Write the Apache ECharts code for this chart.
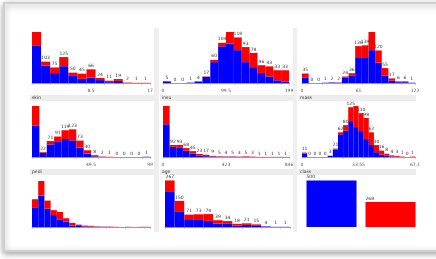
<!DOCTYPE html>
<html><head><meta charset="utf-8">
<script src="https://cdn.jsdelivr.net/npm/echarts@6/dist/echarts.min.js"></script>
<style>html,body{margin:0;padding:0;background:#fff;overflow:hidden}#c{width:436px;height:259px}</style>
</head><body><div id="c"></div>
<script>
// attribute names (Weka "Visualize All" of the Pima diabetes data)
const names = ['preg','plas','pres','skin','insu','mass','pedi','age','class'];

// per-bin counts: blue = tested_negative, red = tested_positive
const pregNeg = [179, 84, 48, 81, 34, 20, 26, 14, 4, 10, 0, 0, 0];
const pregPos = [67, 19, 27, 44, 16, 25, 40, 10, 7, 9, 2, 1, 1];
const plasNeg = [3, 0, 0, 1, 4, 16, 54, 95, 102, 85, 54, 41, 26, 17, 7, 4];
const plasPos = [2, 0, 0, 0, 0, 1, 6, 9, 30, 33, 39, 37, 20, 26, 26, 29];
const presNeg = [19, 0, 0, 1, 2, 1, 19, 28, 95, 95, 121, 75, 28, 9, 3, 3, 1];
const presPos = [16, 0, 0, 0, 0, 1, 5, 8, 41, 44, 67, 45, 27, 8, 3, 3, 0];
const skinNeg = [139, 19, 56, 70, 80, 74, 42, 15, 3, 1, 0, 0, 0, 0, 0, 1];
const skinPos = [88, 3, 15, 21, 39, 49, 31, 15, 5, 1, 1, 0, 0, 0, 0, 0];
const insuNeg = [251, 78, 70, 48, 25, 10, 6, 4, 2, 2, 2, 1, 1, 1, 0, 0, 0, 1, 0];
const insuPos = [140, 14, 23, 20, 20, 13, 11, 5, 3, 2, 3, 2, 4, 2, 1, 1, 1, 0, 1];
const massNeg = [9, 0, 0, 0, 0, 3, 19, 57, 66, 90, 75, 65, 45, 30, 12, 6, 3, 1, 1, 0, 0, 0];
const massPos = [2, 0, 0, 0, 0, 0, 2, 5, 14, 35, 53, 45, 53, 32, 18, 10, 5, 3, 2, 1, 0, 1];
const pediNeg = [96, 158, 93, 60, 36, 28, 7, 5, 3, 2, 1, 1, 1, 0, 0, 0, 0, 0, 0];
const pediPos = [44, 74, 40, 25, 40, 16, 14, 7, 4, 4, 2, 1, 1, 1, 0, 1, 0, 1, 1];
const ageNeg = [205, 90, 40, 40, 35, 20, 18, 8, 12, 10, 3, 1, 1];
const agePos = [62, 60, 31, 33, 39, 19, 16, 10, 9, 5, 1, 0, 0];
const classNeg = [500, 0];
const classPos = [0, 268];

// axis tick labels (min, mid, max)
const pregTicks = [0, 8.5, 17];
const plasTicks = [0, 99.5, 199];
const presTicks = [0, 61, 122];
const skinTicks = [0, 49.5, 99];
const insuTicks = [0, 423, 846];
const massTicks = [0, 33.55, 67.1];
const pediTicks = [0.078, 1.249, 2.42];
const ageTicks = [21, 51, 81];
const classCats = ['tested_negative', 'tested_positive'];

const panels = [
  {neg: pregNeg, pos: pregPos, ticks: pregTicks, showMax: false, hideMin: true},
  {neg: plasNeg, pos: plasPos, ticks: plasTicks, showMax: false},
  {neg: presNeg, pos: presPos, ticks: presTicks, showMax: false},
  {neg: skinNeg, pos: skinPos, ticks: skinTicks, showMax: false, hideMin: true},
  {neg: insuNeg, pos: insuPos, ticks: insuTicks, showMax: false},
  {neg: massNeg, pos: massPos, ticks: massTicks, showMax: false},
  {neg: pediNeg, pos: pediPos, ticks: pediTicks, showMax: false, noAxis: true, noLabels: true},
  {neg: ageNeg, pos: agePos, ticks: ageTicks, showMax: true, noAxis: true},
  {neg: classNeg, pos: classPos, cats: classCats, showMax: true, noAxis: true, leftLabels: true}
];

const colLeft = [32, 163, 302];
const colWidth = [118, 126, 113];
const rowTop = [32, 106, 178];
const rowHeight = [51, 51, 49];
const rowFill = [1, 1, 0.95];

const BLUE = '#0000ff', RED = '#ff0000';
const grid = [], xAxis = [], yAxis = [], series = [];
const graphic = [];

// outer frame
graphic.push({type: 'rect', shape: {x: 4, y: 3, width: 450, height: 248},
  style: {fill: '#fff', stroke: '#cfcfcf', lineWidth: 2, shadowBlur: 6, shadowColor: 'rgba(0,0,0,0.35)', shadowOffsetY: 2}, z: -10});

panels.forEach((p, i) => {
  const r = Math.floor(i / 3), c = i % 3;
  const totals = p.neg.map((v, k) => v + p.pos[k]);
  const maxT = Math.max(...totals);
  const cats = p.cats || totals.map((_, k) => String(k));
  let left = colLeft[c], width = colWidth[c];
  if (i === 8) { left = 302; width = 118; }
  if (i === 7) { left = 165; width = 125; }
  grid.push({left: left, top: rowTop[r], width: width, height: rowHeight[r], containLabel: false});
  xAxis.push({type: 'category', gridIndex: i, data: cats, boundaryGap: true,
    axisLine: {show: !p.cats, lineStyle: {color: '#9a9ab0', width: 1}},
    axisTick: {show: !p.cats, length: 1.5, lineStyle: {color: '#9a9ab0'}},
    axisLabel: {show: false}});
  const ax = {type: 'value', gridIndex: i, position: 'bottom', show: !p.noAxis && !!p.ticks,
    axisLine: {show: false}, axisTick: {show: false}, splitLine: {show: false},
    axisLabel: {show: true, fontSize: 4.5, color: '#555', margin: 5, fontFamily: 'DejaVu Sans',
      showMinLabel: !p.hideMin, showMaxLabel: true, formatter: v => String(+v.toFixed(3))}};
  if (p.ticks) { ax.min = p.ticks[0]; ax.max = p.ticks[2]; ax.interval = p.ticks[1] - p.ticks[0]; }
  xAxis.push(ax);
  yAxis.push({type: 'value', gridIndex: i, min: 0, max: maxT / (i === 6 ? 0.94 : rowFill[r]), show: false});
  const catIdx = xAxis.length - 2;
  const common = {type: 'bar', xAxisIndex: catIdx, yAxisIndex: i, stack: 's' + i,
    barCategoryGap: p.cats ? '12%' : '0%', barWidth: p.cats ? 50 : undefined,
    silent: true, animation: false};
  series.push(Object.assign({}, common, {data: p.neg, itemStyle: {color: BLUE}}));
  series.push(Object.assign({}, common, {data: p.pos, itemStyle: {color: RED},
    label: {show: !p.noLabels, position: p.leftLabels ? [0, -6] : 'top', distance: 1,
      fontSize: 4.5, color: '#333', fontFamily: 'DejaVu Sans',
      formatter: prm => {
        const t = totals[prm.dataIndex];
        if (t === maxT && !p.showMax) return '';
        return String(t);
      }}}));
});

// header strips for rows 2 and 3
const stripX = [[30, 124], [160, 133], [298, 118]];
[[95, 3], [169, 6]].forEach(([y, startIdx]) => {
  for (let c = 0; c < 3; c++) {
    graphic.push({type: 'rect', shape: {x: stripX[c][0], y: y, width: stripX[c][1], height: 6},
      style: {fill: '#ececec'}, z: -5});
    graphic.push({type: 'text', x: stripX[c][0] + 2, y: y + 0.5,
      style: {text: names[startIdx + c], fontSize: 4.5, fill: '#333', fontFamily: 'DejaVu Sans'}, z: 5});
  }
});
// vertical panel separators
[[154, 28, 5, 204], [293, 28, 4, 204]].forEach(([x, y, w, h]) => {
  graphic.push({type: 'rect', shape: {x, y, width: w, height: h}, style: {fill: '#efefef'}, z: -5});
});

const chart = echarts.init(document.getElementById('c'), null, {renderer: 'canvas'});
chart.setOption({animation: false, grid, xAxis, yAxis, series, graphic});
</script></body></html>
